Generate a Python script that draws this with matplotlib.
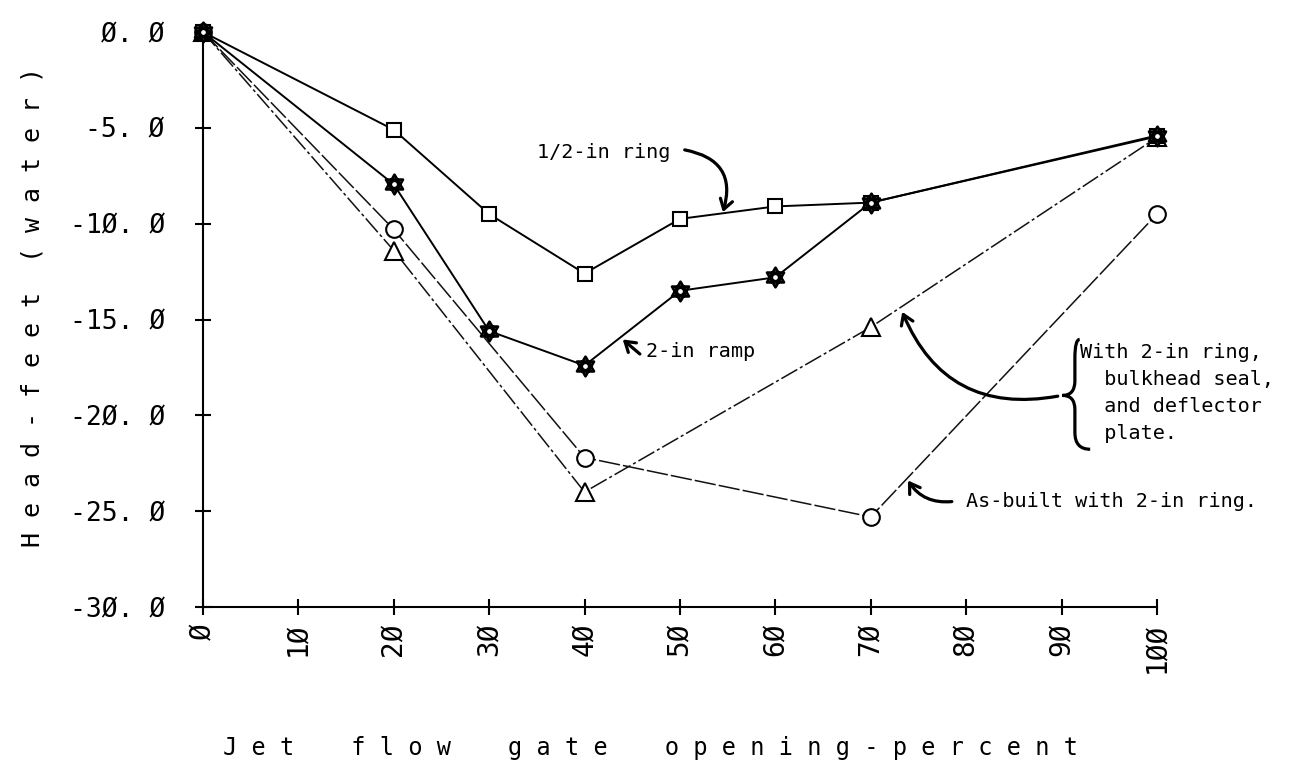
import matplotlib
matplotlib.use("Agg")
import matplotlib.pyplot as plt
import matplotlib.path as mpath
import matplotlib.patches as mpatches
import numpy as np

plt.rcParams['font.family'] = ['DejaVu Sans Mono', 'DejaVu Sans']

# gate opening (percent) and head (feet of water)
x_ring = [0, 20, 30, 40, 50, 60, 70, 100]
y_ring = [0, -5.1, -9.5, -12.6, -9.75, -9.1, -8.9, -5.45]     # 1/2-in ring
x_ramp = [0, 20, 30, 40, 50, 60, 70, 100]
y_ramp = [0, -7.95, -15.6, -17.4, -13.5, -12.8, -8.9, -5.4]   # 2-in ramp
x_built = [0, 20, 40, 70, 100]
y_built = [0, -10.3, -22.2, -25.3, -9.5]                       # as-built, 2-in ring
x_defl = [0, 20, 40, 70, 100]
y_defl = [0, -11.4, -24.0, -15.4, -5.5]                        # 2-in ring + seal + plate

xticks = [0, 10, 20, 30, 40, 50, 60, 70, 80, 90, 100]
xtick_labels = ['Ø', '1Ø', '2Ø', '3Ø', '4Ø', '5Ø', '6Ø', '7Ø', '8Ø', '9Ø', '1ØØ']
yticks = [0, -5, -10, -15, -20, -25, -30]
ytick_labels = ['Ø. Ø', '-5. Ø', '-1Ø. Ø', '-15. Ø', '-2Ø. Ø', '-25. Ø', '-3Ø. Ø']

# star of david marker: two overlapping triangles
ang = np.deg2rad([90, 210, 330])
up = np.column_stack([np.cos(ang), np.sin(ang)])
verts = np.vstack([up, up[:1], -up, -up[:1]])
codes = [mpath.Path.MOVETO, mpath.Path.LINETO, mpath.Path.LINETO, mpath.Path.CLOSEPOLY] * 2
hexagram = mpath.Path(verts, codes)

fig = plt.figure(figsize=(12.96, 7.79), dpi=100)
ax = fig.add_axes([0.1566, 0.2208, 0.7361, 0.7381])

ax.plot(x_defl, y_defl, color='#111111', lw=1.1, ls=(0, (12, 2, 2, 2)),
        marker='^', ms=13, mfc='white', mec='black', mew=1.5, clip_on=False, zorder=3)
ax.plot(x_built, y_built, color='#111111', lw=1.1, ls=(0, (14, 2)),
        marker='o', ms=12, mfc='white', mec='black', mew=1.5, clip_on=False, zorder=3)
ax.plot(x_ring, y_ring, color='black', lw=1.4,
        marker='s', ms=10, mfc='white', mec='black', mew=1.5, clip_on=False, zorder=4)
ax.plot(x_ramp, y_ramp, color='black', lw=1.4,
        marker=hexagram, ms=14, mfc='white', mec='black', mew=2.0, clip_on=False, zorder=5)
ax.plot(x_ramp, y_ramp, ls='none', marker='o', ms=5, mfc='none', mec='black', mew=1.6,
        clip_on=False, zorder=6)

ax.set_xlim(0, 100)
ax.set_ylim(-30, 0)
ax.set_xticks(xticks)
ax.set_xticklabels(xtick_labels, rotation=90, fontsize=20, va='top')
ax.set_yticks(yticks)
ax.set_yticklabels(ytick_labels, fontsize=19)
ax.tick_params(direction='inout', length=11, width=1.5)
ax.tick_params(axis='x', pad=6)
ax.tick_params(axis='y', pad=22)
for s in ['top', 'right']:
    ax.spines[s].set_visible(False)
for s in ['left', 'bottom']:
    ax.spines[s].set_linewidth(1.5)

# axis titles, plotter style with wide letter spacing
fig.text(0.502, 0.040, 'J e t    f l o w    g a t e    o p e n i n g - p e r c e n t',
         ha='center', va='center', fontsize=17)
fig.text(0.025, 0.606, 'H e a d - f e e t  ( w a t e r )', rotation=90,
         ha='center', va='center', fontsize=18)

# annotations
arrow = dict(arrowstyle='->,head_length=0.7,head_width=0.45', lw=2.3, color='black',
             shrinkA=0, shrinkB=0)
tsize = 14.5

ax.text(35.0, -6.3, '1/2-in ring', fontsize=tsize, ha='left', va='center')
ax.annotate('', xy=(54.5, -9.4), xytext=(50.5, -6.15),
            arrowprops=dict(arrow, connectionstyle='arc3,rad=-0.55'))

ax.text(46.4, -16.67, '2-in ramp', fontsize=tsize, ha='left', va='center')
ax.annotate('', xy=(44.0, -16.04), xytext=(45.8, -16.8),
            arrowprops=dict(arrow))

ax.text(91.9, -16.2, 'With 2-in ring,\n  bulkhead seal,\n  and deflector\n  plate.',
        fontsize=tsize, ha='left', va='top', linespacing=1.55, clip_on=False)
brace = mpath.Path(
    [(91.9, -16.04), (91.4, -16.04), (91.4, -17.0), (91.4, -18.2),
     (91.4, -18.96), (90.1, -18.96), (91.4, -18.96), (91.4, -19.7),
     (91.4, -20.9), (91.4, -21.77), (93.0, -21.77)],
    [mpath.Path.MOVETO, mpath.Path.CURVE3, mpath.Path.CURVE3, mpath.Path.LINETO,
     mpath.Path.CURVE3, mpath.Path.CURVE3, mpath.Path.CURVE3, mpath.Path.CURVE3,
     mpath.Path.LINETO, mpath.Path.CURVE3, mpath.Path.CURVE3])
ax.add_patch(mpatches.PathPatch(brace, fill=False, lw=2.3, clip_on=False))
ax.annotate('', xy=(73.3, -14.6), xytext=(89.6, -19.0),
            arrowprops=dict(arrow, connectionstyle='arc3,rad=-0.4'), annotation_clip=False)

ax.text(80.0, -24.5, 'As-built with 2-in ring.', fontsize=tsize, ha='left', va='center',
        clip_on=False)
ax.annotate('', xy=(73.9, -23.4), xytext=(78.5, -24.5),
            arrowprops=dict(arrow, connectionstyle='arc3,rad=-0.3'))

fig.savefig('out.png', dpi=100)
